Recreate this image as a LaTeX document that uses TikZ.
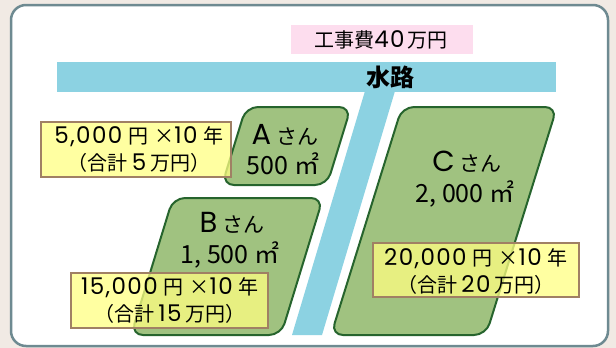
\documentclass[tikz,border=0pt]{standalone}
\usepackage{fontspec}
\setmainfont{Noto Sans CJK JP}
\newfontfamily\pop{Poppins}[LetterSpace=6]
\newfontfamily\popl{Poppins}
\definecolor{bgbeige}{RGB}{241,234,228}
\definecolor{frame}{RGB}{110,138,145}
\definecolor{water}{RGB}{140,210,226}
\definecolor{pinkbox}{RGB}{253,221,238}
\definecolor{plotfill}{RGB}{160,194,128}
\definecolor{plotline}{RGB}{38,100,45}
\definecolor{labfill}{RGB}{255,255,130}
\definecolor{labline}{RGB}{160,128,100}
\newcommand{\dg}[1]{{\pop\fontsize{23}{27}\selectfont #1}}
\begin{document}
\begin{tikzpicture}[x=1pt,y=-1pt,
  plot/.style={fill=plotfill,draw=plotline,line width=2pt,rounded corners=12pt},
  lab/.style={draw=labline,line width=2.5pt,fill=labfill,fill opacity=0.75,text opacity=1},
  labtxt/.style={align=center,font=\fontsize{20}{27}\selectfont,inner sep=0pt},
  plottxt/.style={align=center,inner sep=0pt}]
\useasboundingbox (0,0) rectangle (616,348);
\fill[bgbeige] (0,0) rectangle (616,348);
\draw[frame,line width=2.5pt,fill=white,rounded corners=15pt] (11,5) rectangle (608,346);
% water
\fill[water] (57,62) rectangle (556,92);
\fill[water] (365,91) -- (395,91) -- (322,335) -- (292,335) -- cycle;
\node[font=\fontsize{24}{24}\selectfont\bfseries,inner sep=0pt] (suiro) at (390,77) {水路};
% header
\fill[pinkbox] (291,25) rectangle (473,54);
\node[font=\fontsize{20}{20}\selectfont,inner sep=0pt] (cost) at (381,40) {工事費{\pop\fontsize{23}{23}\selectfont 40}\hspace{3pt}万円};
% plots
\draw[plot] (246,107) -- (351,107) -- (327,185) -- (222,185) -- cycle;
\draw[plot] (173,198) -- (323,198) -- (281,335) -- (131,335) -- cycle;
\draw[plot] (402,107) -- (557,107) -- (486,335) -- (331,335) -- cycle;
\node[plottxt] (aname) at (285,135) {{\popl\fontsize{29}{29}\selectfont A}\hspace{5pt}{\fontsize{21}{21}\selectfont さん}};
\node[plottxt,font=\fontsize{25}{25}\selectfont] (aarea) at (283,164) {500 ㎡};
\node[plottxt] (bname) at (232,223) {{\popl\fontsize{29}{29}\selectfont B}\hspace{5pt}{\fontsize{21}{21}\selectfont さん}};
\node[plottxt,font=\fontsize{25}{25}\selectfont] (barea) at (230,255) {1, 500 ㎡};
\node[plottxt] (cname) at (467,162) {{\popl\fontsize{29}{29}\selectfont C}\hspace{5pt}{\fontsize{21}{21}\selectfont さん}};
\node[plottxt,font=\fontsize{25}{25}\selectfont] (carea) at (465,194) {2, 000 ㎡};
% labels
\draw[lab] (41,122) rectangle (231,177);
\node[labtxt] (alab) at (139,150) {\dg{5,000}\hspace{6pt}円\hspace{6pt}×\dg{10}\hspace{6pt}年\\（合計\hspace{4pt}\dg{5}\hspace{4pt}万円）};
\draw[lab] (71,273) rectangle (268,328);
\node[labtxt] (blab) at (170,301) {\dg{15,000}\hspace{6pt}円\hspace{6pt}×\dg{10}\hspace{6pt}年\\（合計\hspace{4pt}\dg{15}\hspace{4pt}万円）};
\draw[lab] (373,243) rectangle (579,297);
\node[labtxt] (clab) at (476,271) {\dg{20,000}\hspace{6pt}円\hspace{6pt}×\dg{10}\hspace{6pt}年\\（合計\hspace{4pt}\dg{20}\hspace{4pt}万円）};
\end{tikzpicture}
\end{document}
